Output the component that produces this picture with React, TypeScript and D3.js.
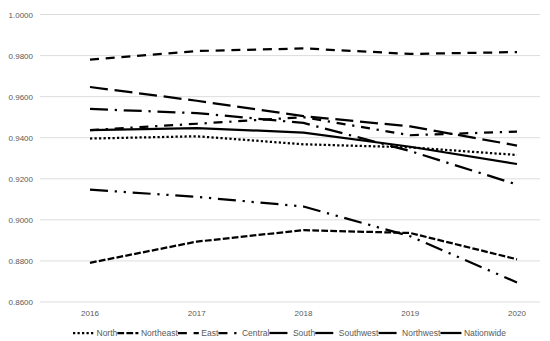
import React, { useLayoutEffect, useRef, useState } from "react";
import * as d3 from "d3";

const years = ["2016", "2017", "2018", "2019", "2020"];
const yTicks = [0.86, 0.88, 0.9, 0.92, 0.94, 0.96, 0.98, 1.0];

const north = [0.9396, 0.9407, 0.9368, 0.9353, 0.9316];
const northeast = [0.8791, 0.8894, 0.8950, 0.8936, 0.8808];
const east = [0.978, 0.9822, 0.9835, 0.9808, 0.9817];
const central = [0.9437, 0.9468, 0.95, 0.9412, 0.943];
const south = [0.9647, 0.958, 0.9505, 0.9455, 0.9362];
const southwest = [0.954, 0.952, 0.9472, 0.9335, 0.9172];
const northwest = [0.9147, 0.9112, 0.9065, 0.892, 0.8695];
const nationwide = [0.9437, 0.9447, 0.9425, 0.9356, 0.9272];

const seriesNames = ["North", "Northeast", "East", "Central", "South", "Southwest", "Northwest", "Nationwide"];
const seriesValues = [north, northeast, east, central, south, southwest, northwest, nationwide];

const W = 550;
const H = 341;
const LW = 2.25;
const dashes = [
  `${LW * 1} ${LW * 1}`,
  `${LW * 3} ${LW * 1}`,
  `${LW * 4} ${LW * 3}`,
  `${LW * 4} ${LW * 3} ${LW * 1} ${LW * 3}`,
  `${LW * 8} ${LW * 3}`,
  `${LW * 8} ${LW * 3} ${LW * 1} ${LW * 3}`,
  `${LW * 8} ${LW * 3} ${LW * 1} ${LW * 3} ${LW * 1} ${LW * 3}`,
  "none",
];

const FONT = "'Liberation Sans', Arial, sans-serif";
const TEXT = "#595959";
const LEG_FS = 8.5;
const LEG_START = 73;
const LEG_END = 506;

export default function App() {
  const x = d3.scalePoint<string>().domain(years).range([90, 517]);
  const y = d3.scaleLinear().domain([0.86, 1.0]).range([302, 14.5]);
  const line = d3
    .line<number>()
    .x((_, i) => x(years[i]) as number)
    .y((d) => y(d));

  const textRefs = useRef<(SVGTextElement | null)[]>([]);
  const [widths, setWidths] = useState<number[]>(seriesNames.map((n) => n.length * 4.6));

  useLayoutEffect(() => {
    const w = textRefs.current.map((el, i) => (el ? el.getComputedTextLength() : widths[i]));
    if (w.some((v, i) => Math.abs(v - widths[i]) > 0.1)) setWidths(w);
  });

  const sample = 21;
  const gapAfterSample = 2.5;
  const totalText = widths.reduce((a, b) => a + b, 0);
  const n = seriesNames.length;
  const trailing = (LEG_END - LEG_START - totalText - n * (sample + gapAfterSample)) / (n - 1);
  let cx = LEG_START;
  const legend = seriesNames.map((name, i) => {
    const item = { name, x0: cx, x1: cx + sample, tx: cx + sample + gapAfterSample };
    cx += sample + gapAfterSample + widths[i] + trailing;
    return item;
  });

  return (
    <svg width={W} height={H} style={{ position: "absolute", left: 0, top: 0, background: "#fff" }}>
      <rect x={0} y={0} width={W} height={H} fill="#fff" />
      {yTicks.map((t) => (
        <g key={t}>
          <line x1={40} x2={540} y1={y(t)} y2={y(t)} stroke="#d9d9d9" strokeWidth={0.9} />
          <text x={33} y={y(t) + 3} textAnchor="end" fontFamily={FONT} fontSize={8} fill={TEXT}>
            {d3.format(".4f")(t)}
          </text>
        </g>
      ))}
      {years.map((yr) => (
        <text key={yr} x={x(yr) as number} y={316} textAnchor="middle" fontFamily={FONT} fontSize={8} fill={TEXT}>
          {yr}
        </text>
      ))}
      {seriesValues.map((vals, i) => (
        <path
          key={seriesNames[i]}
          d={line(vals) || ""}
          fill="none"
          stroke="#000"
          strokeWidth={LW}
          strokeDasharray={dashes[i]}
          strokeLinejoin="round"
        />
      ))}
      {legend.map((it, i) => (
        <g key={it.name}>
          <line x1={it.x0} x2={it.x1} y1={333} y2={333} stroke="#000" strokeWidth={LW} strokeDasharray={dashes[i]} />
          <text
            ref={(el) => {
              textRefs.current[i] = el;
            }}
            x={it.tx}
            y={336}
            fontFamily={FONT}
            fontSize={LEG_FS}
            fill={TEXT}
          >
            {it.name}
          </text>
        </g>
      ))}
    </svg>
  );
}
